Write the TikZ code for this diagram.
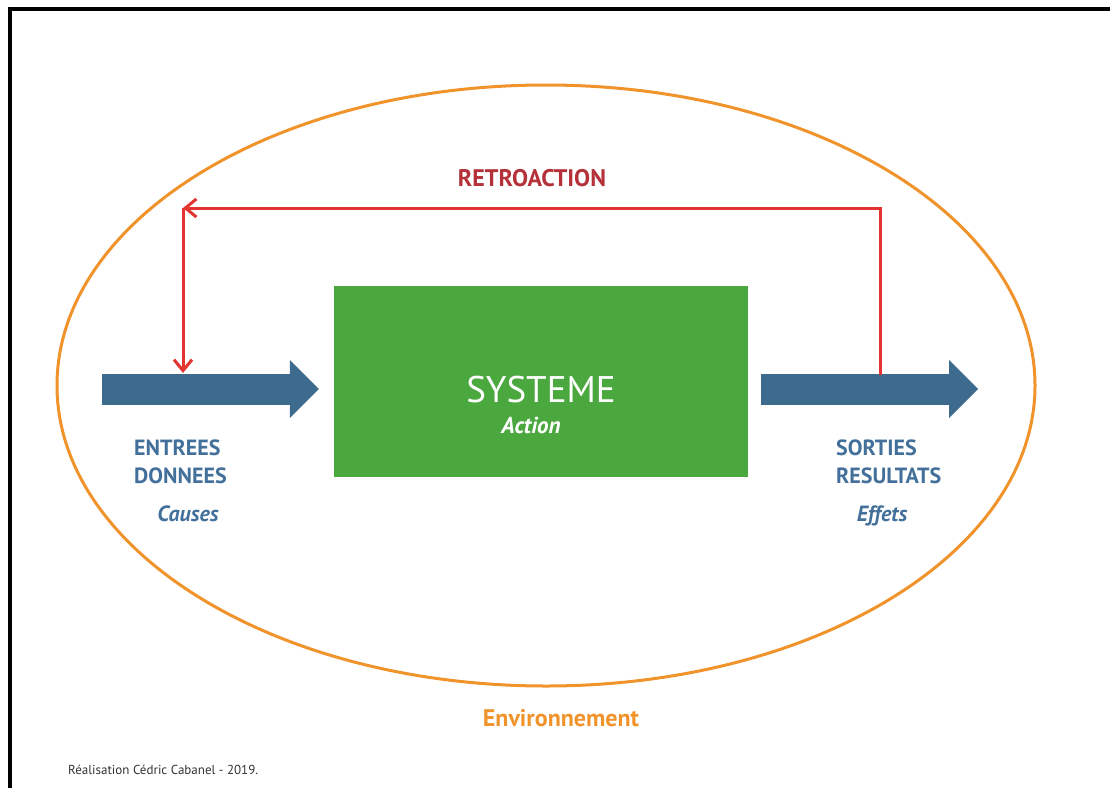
\documentclass[tikz,border=0pt]{standalone}
\usepackage{fontspec}
\setmainfont{PT Sans}
\usetikzlibrary{positioning,arrows.meta,shapes.geometric}

\definecolor{envorange}{HTML}{F0932B}
\definecolor{sysgreen}{HTML}{4BA83F}
\definecolor{flowblue}{HTML}{3D6B8E}
\definecolor{lblblue}{HTML}{43709A}
\definecolor{fbred}{HTML}{E3342F}
\definecolor{fbdark}{HTML}{B5313A}

\begin{document}
\begin{tikzpicture}[x=1pt,y=-1pt,
  envshape/.style={ellipse, draw=envorange, line width=3pt, minimum width=978pt, minimum height=601pt, inner sep=0pt},
  sysbox/.style={rectangle, fill=sysgreen, minimum width=414pt, minimum height=191pt, inner sep=0pt},
  flow/.style={draw=flowblue, line width=31pt, -{Triangle[width=58pt,length=29pt,line width=0pt]}},
  feedback/.style={draw=fbred, line width=3pt, -{Straight Barb[length=11pt,width=18pt]}},
  lbl/.style={inner sep=0pt, text=lblblue, font=\bfseries\fontsize{22}{24}\selectfont},
  lblit/.style={lbl, font=\bfseries\itshape\fontsize{22}{24}\selectfont}]
  \useasboundingbox (0,0) rectangle (1110,787);
  \draw[line width=4pt] (10,800) -- (10,8.7) -- (1120,8.7);

  \node[envshape] (env) at (546,385.5) {};
  \node[sysbox] (sys) at (541,381.5) {};
  \node[inner sep=0pt, text=white, anchor=base, font=\fontsize{37}{40}\selectfont] (sysname) at ([yshift=-20.5pt]sys.center) {SYSTEME};
  \node[inner sep=0pt, text=white, anchor=base, font=\bfseries\itshape\fontsize{23}{26}\selectfont] (sysact) at ([xshift=-10pt,yshift=-31pt]sysname.base) {Action};

  \coordinate (inflow) at (102,389);
  \coordinate (outflow) at (978,389);
  \draw[flow] (inflow) -- ([xshift=-15pt,yshift=-7.5pt]sys.west);
  \draw[flow] ([xshift=13pt,yshift=-7.5pt]sys.east) -- (outflow);

  \coordinate (fbout) at (880,375);
  \coordinate (fbtop) at (183,208);
  \coordinate (fbin) at (183,373);
  \draw[feedback] (fbout) |- (fbtop);
  \draw[feedback] (fbtop) -- (fbin);
  \node[inner sep=0pt, text=fbdark, anchor=base, font=\bfseries\fontsize{24}{26}\selectfont] (retro) at (532,186) {RETROACTION};

  \node[lbl, anchor=base west] (entrees) at (134,455) {ENTREES};
  \node[lbl, anchor=base west] (donnees) at ([yshift=-28pt]entrees.base west) {DONNEES};
  \node[lblit, anchor=base] (causes) at (188,521) {Causes};
  \node[lbl, anchor=base west] (sorties) at (836,455) {SORTIES};
  \node[lbl, anchor=base west] (resultats) at ([yshift=-28pt]sorties.base west) {RESULTATS};
  \node[lblit, anchor=base] (effets) at (882,521) {Effets};

  \node[inner sep=0pt, text=envorange, anchor=base, font=\bfseries\fontsize{24}{26}\selectfont] (envname) at (561,726) {Environnement};
  \node[inner sep=0pt, text=black!80, anchor=base west, font=\fontsize{13}{15}\selectfont] (credit) at (68,774) {Réalisation Cédric Cabanel - 2019.};
\end{tikzpicture}
\end{document}
